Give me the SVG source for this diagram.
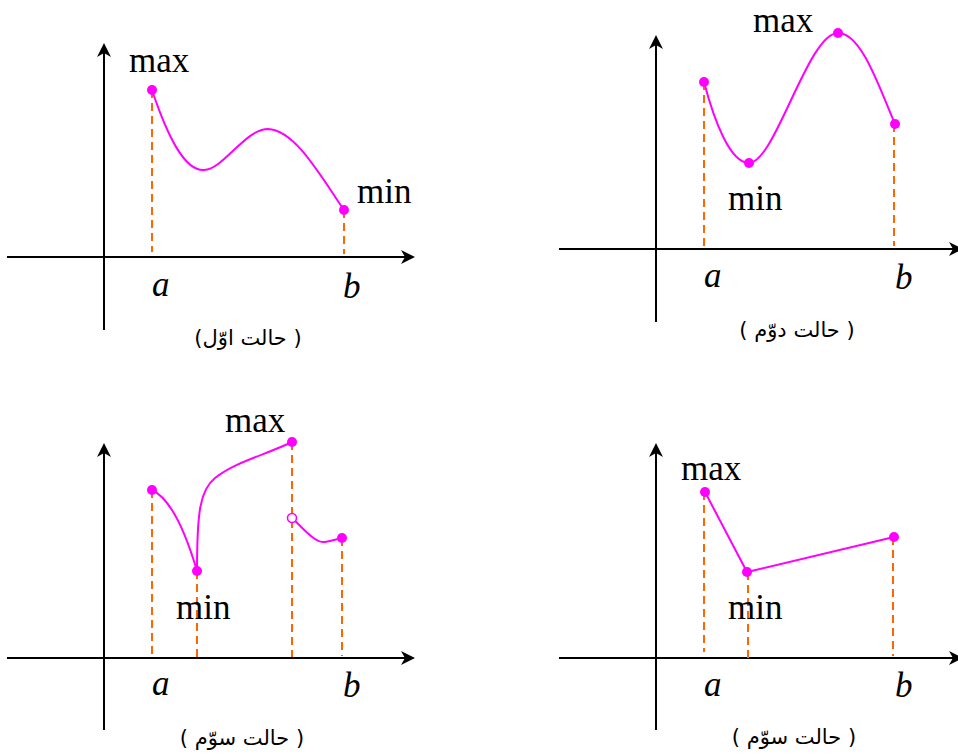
<svg xmlns="http://www.w3.org/2000/svg" width="958" height="755" viewBox="0 0 958 755">
<style>
.axis{stroke:#000;stroke-width:2;fill:none;marker-end:url(#arr)}
.dash{stroke:#ff6600;stroke-width:2;stroke-dasharray:8 5;fill:none}
.curve{stroke:#ff00ff;stroke-width:2;fill:none}
.pt{fill:#ff00ff}
.open{fill:#fff;stroke:#ff00ff;stroke-width:1.6}
.lbl{font-family:"Liberation Serif",serif;font-size:35px;fill:#000}
.var{font-family:"Liberation Serif",serif;font-size:35px;font-style:italic;fill:#000}
.cap{font-family:"DejaVu Sans","Noto Sans",sans-serif;font-size:21px;fill:#000;text-anchor:middle}
</style>
<defs>
<marker id="arr" markerUnits="userSpaceOnUse" markerWidth="16" markerHeight="16" refX="9" refY="7" orient="auto">
<path d="M0,0 L14,7 L0,14 L4,7 z" fill="#000"/>
</marker>
</defs>
<g id="connectors">
<line class="axis" x1="104" y1="330" x2="104" y2="48"/>
<line class="axis" x1="7" y1="257" x2="410" y2="257"/>
<line class="axis" x1="656" y1="322" x2="656" y2="40"/>
<line class="axis" x1="559" y1="249" x2="958" y2="249"/>
<line class="axis" x1="104" y1="730" x2="104" y2="448"/>
<line class="axis" x1="7" y1="658" x2="410" y2="658"/>
<line class="axis" x1="656" y1="730" x2="656" y2="448"/>
<line class="axis" x1="559" y1="658" x2="958" y2="658"/>
<line class="dash" x1="152" y1="90" x2="152" y2="252"/>
<line class="dash" x1="344" y1="210" x2="344" y2="254"/>
<line class="dash" x1="704" y1="82" x2="704" y2="246"/>
<line class="dash" x1="894" y1="124" x2="894" y2="246"/>
<line class="dash" x1="152" y1="490" x2="152" y2="655"/>
<line class="dash" x1="197" y1="571" x2="197" y2="657"/>
<line class="dash" x1="292" y1="442" x2="292" y2="657"/>
<line class="dash" x1="342" y1="538" x2="342" y2="656"/>
<line class="dash" x1="704" y1="492" x2="704" y2="652"/>
<line class="dash" x1="748" y1="572" x2="748" y2="658"/>
<line class="dash" x1="893" y1="537" x2="893" y2="656"/>
</g>
<g id="panel1">
<path class="curve" d="M152,90 C168,138 185,171 204,170 C224,169 245,129 268,129 C295,130 320,175 344,210"/>
<circle class="pt" cx="152" cy="90" r="5"/>
<circle class="pt" cx="344" cy="210" r="5"/>
<text class="lbl" x="129" y="72">max</text>
<text class="lbl" x="357" y="203">min</text>
<text class="var" x="152" y="296">a</text>
<text class="var" x="343" y="298">b</text>
<text class="cap" x="248" y="345" direction="rtl">( حالت اوّل)</text>
</g>
<g id="panel2">
<path class="curve" d="M704,82 C714,120 730,163 749,163 C775,163 808,33 838,33 C862,33 880,90 895,124"/>
<circle class="pt" cx="704" cy="82" r="5"/>
<circle class="pt" cx="749" cy="163" r="5"/>
<circle class="pt" cx="838" cy="33" r="5"/>
<circle class="pt" cx="895" cy="124" r="5"/>
<text class="lbl" x="753" y="32">max</text>
<text class="lbl" x="728" y="210">min</text>
<text class="var" x="704" y="287">a</text>
<text class="var" x="895" y="289">b</text>
<text class="cap" x="797" y="337" direction="rtl">( حالت دوّم )</text>
</g>
<g id="panel3">
<path class="curve" d="M152,490 C167,497 182,520 197,571"/>
<path class="curve" d="M197,571 C197,512 200,490 215,478 C235,462 265,455 292,442"/>
<path class="curve" d="M292,518 C305,530 315,543 325,542 C332,541 337,539 342,538"/>
<circle class="pt" cx="152" cy="490" r="5"/>
<circle class="pt" cx="197" cy="571" r="5"/>
<circle class="pt" cx="292" cy="442" r="5"/>
<circle class="open" cx="292" cy="518" r="4.5"/>
<circle class="pt" cx="342" cy="538" r="5"/>
<text class="lbl" x="225" y="432">max</text>
<text class="lbl" x="176" y="619">min</text>
<text class="var" x="152" y="695">a</text>
<text class="var" x="343" y="697">b</text>
<text class="cap" x="242" y="745" direction="rtl">( حالت سوّم )</text>
</g>
<g id="panel4">
<polyline class="curve" points="705,492 747,572 894,537"/>
<circle class="pt" cx="705" cy="492" r="5"/>
<circle class="pt" cx="747" cy="572" r="5"/>
<circle class="pt" cx="894" cy="537" r="5"/>
<text class="lbl" x="681" y="480">max</text>
<text class="lbl" x="728" y="619">min</text>
<text class="var" x="704" y="696">a</text>
<text class="var" x="895" y="697">b</text>
<text class="cap" x="794" y="744" direction="rtl">( حالت سوّم )</text>
</g>
</svg>
